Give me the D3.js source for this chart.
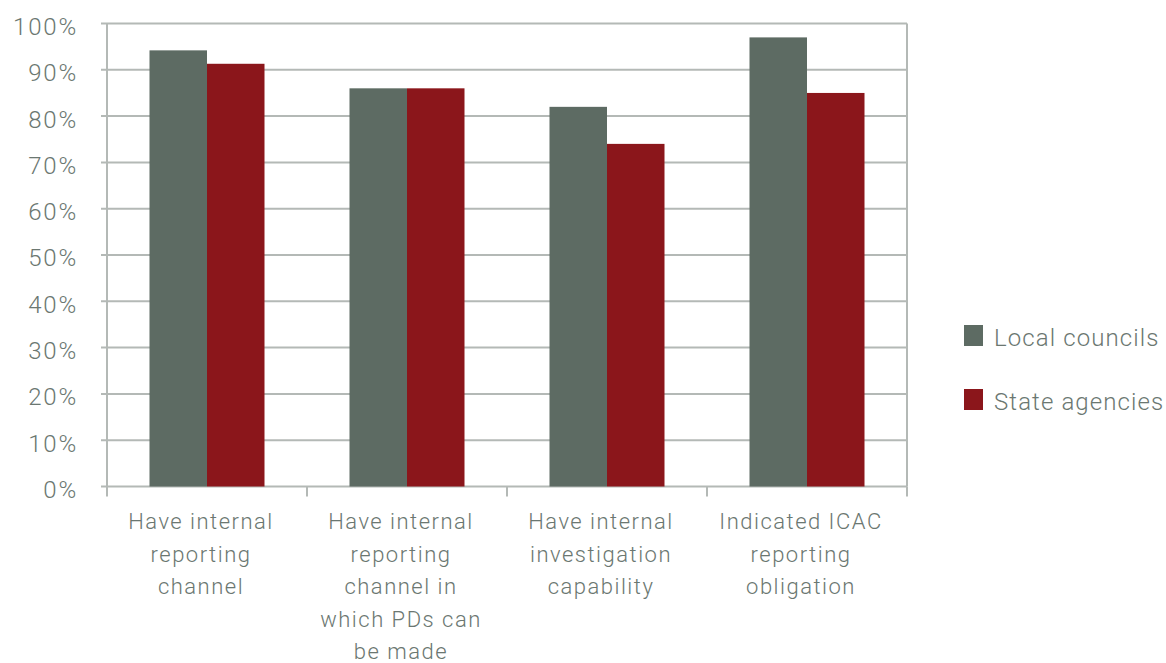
<!DOCTYPE html>
<html>
<head>
<meta charset="utf-8">
<script src="https://cdn.jsdelivr.net/npm/d3@7"></script>
<style>
  body { margin: 0; background: #fff; }
  svg text { font-family: Roboto, 'Liberation Sans', sans-serif; font-weight: 300; fill: #6b7771; }
</style>
</head>
<body>
<svg id="chart"></svg>
<script>
const categories = [
  ['Have internal', 'reporting', 'channel'],
  ['Have internal', 'reporting', 'channel in', 'which PDs can', 'be made'],
  ['Have internal', 'investigation', 'capability'],
  ['Indicated ICAC', 'reporting', 'obligation']
]
const seriesNames = ['Local councils', 'State agencies']
const localCouncils = [94.2, 86, 82, 97]
const stateAgencies = [91.3, 86, 74, 85]
const yTicks = [0, 10, 20, 30, 40, 50, 60, 70, 80, 90, 100]
const colors = ['#5d6b63', '#8b161b']

const width = 1166
const height = 663
const margin = { top: 23.5, left: 107, right: 259, bottom: 176.5 }
const bodyWidth = width - margin.left - margin.right
const bodyHeight = height - margin.top - margin.bottom
const gridColor = '#b4b9b6'

const svg = d3.select('#chart').attr('width', width).attr('height', height)

const rows = categories.map((c, i) => ({ idx: i, lines: c, values: [localCouncils[i], stateAgencies[i]] }))

const x0 = d3.scaleBand().domain(rows.map(d => d.idx)).range([0, bodyWidth]).paddingInner(0.425).paddingOuter(0.2125)
const x1 = d3.scaleBand().domain([0, 1]).range([0, x0.bandwidth()])
const y = d3.scaleLinear().domain([0, 100]).range([bodyHeight, 0])

const body = svg.append('g').attr('transform', `translate(${margin.left},${margin.top})`)

// gridlines
body.append('g')
  .selectAll('line')
  .data(yTicks)
  .enter()
  .append('line')
  .attr('x1', -6).attr('x2', bodyWidth)
  .attr('y1', d => y(d)).attr('y2', d => y(d))
  .attr('stroke', gridColor).attr('stroke-width', 2)

// bars
const groups = body.selectAll('g.grp')
  .data(rows)
  .enter()
  .append('g')
  .attr('class', 'grp')
  .attr('transform', d => `translate(${x0(d.idx)},0)`)

groups.selectAll('rect')
  .data(d => d.values.map((v, k) => ({ v, k })))
  .enter()
  .append('rect')
  .attr('x', d => x1(d.k))
  .attr('width', x1.bandwidth())
  .attr('y', d => y(d.v))
  .attr('height', d => bodyHeight - y(d.v))
  .attr('fill', d => colors[d.k])

// left + right frame lines
body.append('line').attr('x1', 0).attr('x2', 0).attr('y1', 0).attr('y2', bodyHeight)
  .attr('stroke', gridColor).attr('stroke-width', 2)
body.append('line').attr('x1', bodyWidth).attr('x2', bodyWidth).attr('y1', 0).attr('y2', bodyHeight)
  .attr('stroke', gridColor).attr('stroke-width', 2)

// x axis ticks at category boundaries
const step = x0.step()
const xBounds = d3.range(categories.length + 1).map(i => i * step)
body.append('g')
  .selectAll('line')
  .data(xBounds)
  .enter()
  .append('line')
  .attr('x1', d => d).attr('x2', d => d)
  .attr('y1', bodyHeight).attr('y2', bodyHeight + 10)
  .attr('stroke', gridColor).attr('stroke-width', 2)

// y tick labels
body.append('g')
  .selectAll('text')
  .data(yTicks)
  .enter()
  .append('text')
  .attr('x', -29)
  .attr('y', d => y(d) + 3)
  .attr('dy', '0.35em')
  .attr('text-anchor', 'end')
  .style('font-size', '24px')
  .style('letter-spacing', '1.8px')
  .text(d => d + '%')

// category labels
const labels = body.append('g')
  .selectAll('text')
  .data(rows)
  .enter()
  .append('text')
  .attr('text-anchor', 'middle')
  .attr('transform', d => `translate(${x0(d.idx) + x0.bandwidth() / 2 - 6},${bodyHeight + 42.5})`)
  .style('font-size', '22px')
  .style('letter-spacing', '1.5px')

labels.selectAll('tspan')
  .data(d => d.lines)
  .enter()
  .append('tspan')
  .attr('x', 0)
  .attr('y', (d, i) => i * 32.5)
  .text(d => d)

// legend
const legend = svg.append('g').attr('transform', 'translate(964,325)')
const items = legend.selectAll('g')
  .data(seriesNames)
  .enter()
  .append('g')
  .attr('transform', (d, i) => `translate(0,${i * 64})`)
items.append('rect').attr('width', 19).attr('height', 21).attr('fill', (d, i) => colors[i])
items.append('text')
  .attr('x', 30).attr('y', 13).attr('dy', '0.35em')
  .style('font-size', '24px')
  .style('letter-spacing', '1.1px')
  .text(d => d)
</script>
</body>
</html>
